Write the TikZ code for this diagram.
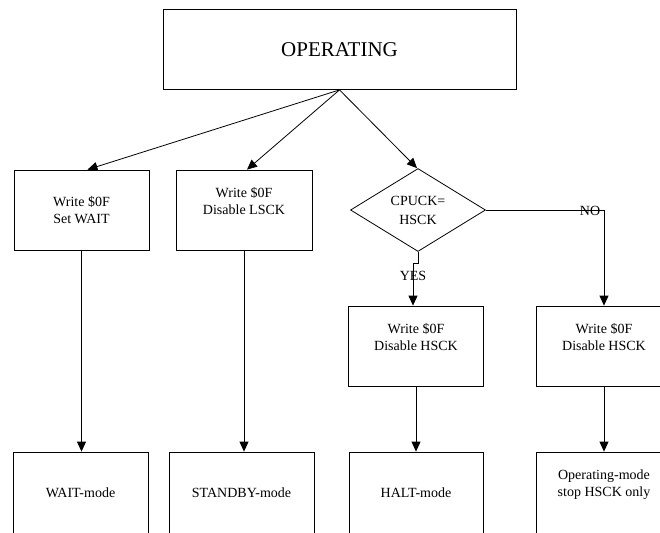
\documentclass[tikz,border=0pt]{standalone}
\usepackage{fontspec}
\setmainfont{Liberation Serif}
\usetikzlibrary{arrows.meta, positioning, shapes.geometric}

\begin{document}
\begin{tikzpicture}[
    x=1pt,
    y=-1pt,
    >={Triangle[length=10pt, width=9pt]},
    box/.style={
        rectangle,
        draw=black,
        line width=0.8pt,
        minimum width=135pt,
        minimum height=80pt,
        inner sep=0pt,
        align=center,
        font=\fontsize{14}{17}\selectfont
    },
    raised/.style={
        text depth=18pt
    },
    decision/.style={
        diamond,
        draw=black,
        line width=0.8pt,
        minimum width=135pt,
        minimum height=80pt,
        inner sep=0pt,
        align=center,
        font=\fontsize{14}{19}\selectfont
    },
    lbl/.style={
        inner sep=0pt,
        font=\fontsize{14}{17}\selectfont
    },
    line/.style={
        ->,
        line width=0.8pt
    }
]
\useasboundingbox (0,0) rectangle (660,532);

% Top state
\node[box, minimum width=353pt, minimum height=80pt, font=\fontsize{21}{25}\selectfont] (operating) at (339.5,49.5) {OPERATING};

% Middle row
\node[box] (setwait) at (81.5,210) {Write \$0F\\Set WAIT};
\node[box, minimum width=136pt, raised] (dislsck) at (244,210) {Write \$0F\\Disable LSCK};
\node[decision] (cpuck) at (418,210) {CPUCK=\\HSCK};

\node[box, raised] (halthsck) at (416,346) {Write \$0F\\Disable HSCK};
\node[box, raised] (stophsck) at (604,346) {Write \$0F\\Disable HSCK};

% Bottom row: resulting modes
\node[box, minimum height=82pt] (waitmode) at (80.5,493) {WAIT-mode};
\node[box, minimum width=145pt, minimum height=82pt] (standbymode) at (241.5,493) {STANDBY-mode};
\node[box, minimum width=134pt, minimum height=82pt] (haltmode) at (416,493) {HALT-mode};
\node[box, minimum height=82pt, text depth=20pt] (opmode) at (604,493) {Operating-mode\\stop HSCK only};

% Arrows from the top state
\draw[line] (operating.south) -- ([xshift=6pt]setwait.north);
\draw[line] (operating.south) -- ([xshift=3pt]dislsck.north);
\draw[line] (operating.south) -- ([xshift=-1pt]cpuck.north);

% Decision branches
\draw[line] (cpuck.south) -- ++(0,12) -| ([xshift=-3pt]halthsck.north);
\draw[line] (cpuck.east) -| (stophsck.north);
\node[lbl] (yes) at (413,276) {YES};
\node[lbl] (no) at (590,211) {NO};

% Down to the modes
\draw[line] (setwait.south) -- (setwait.south |- waitmode.north);
\draw[line] (dislsck.south) -- (dislsck.south |- standbymode.north);
\draw[line] (halthsck.south) -- (halthsck.south |- haltmode.north);
\draw[line] (stophsck.south) -- (stophsck.south |- opmode.north);

\end{tikzpicture}
\end{document}
